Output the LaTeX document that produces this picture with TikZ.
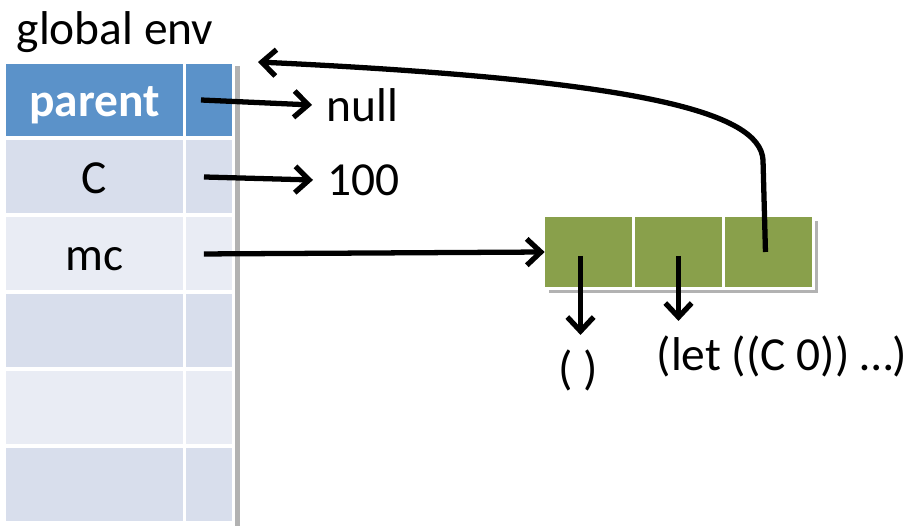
\documentclass[tikz,border=0pt]{standalone}
\usepackage{fontspec}
\setmainfont{Carlito}
\usepackage{tikz}
\usetikzlibrary{arrows.meta}
\definecolor{hdrblue}{RGB}{91,146,201}
\definecolor{rowdark}{RGB}{216,222,236}
\definecolor{rowlight}{RGB}{233,236,244}
\definecolor{consgreen}{RGB}{137,160,75}
\tikzstyle{namecell} = [rectangle, minimum width=3.54cm, minimum height=1.46cm, inner sep=0pt, text height=19pt, text depth=0pt, text centered]
\tikzstyle{ptrcell} = [rectangle, minimum width=0.92cm, minimum height=1.46cm, inner sep=0pt]
\tikzstyle{conscell} = [rectangle, fill=consgreen, minimum width=1.74cm, minimum height=1.4cm, inner sep=0pt]
\tikzstyle{val} = [inner sep=8pt]
\tikzstyle{arrow} = [line width=3pt,-{Straight Barb[length=8pt,width=15pt]}]

\begin{document}
\begin{tikzpicture}[node distance=1.54cm, x=0.02cm, y=-0.02cm, font=\fontsize{27pt}{31pt}\selectfont]
\useasboundingbox (0,0) rectangle (915,526);
% table shadow and backing
\fill[black!30] (234,66) rectangle (240,526);
\fill[white] (2,60) rectangle (235,526);
% cons shadow and backing
\fill[black!30] (549,221) rectangle (818,293);
\fill[white] (543,215) rectangle (815,290);

\node (genv) at (115,32) {global env};
\node (parent) [namecell, fill=hdrblue, text=white, font=\fontsize{27pt}{31pt}\selectfont\bfseries] at (94.5,100) {parent};
\node (C) [namecell, fill=rowdark, below of=parent] {C};
\node (mc) [namecell, fill=rowlight, below of=C] {mc};
\node (rowfour) [namecell, fill=rowdark, below of=mc] {};
\node (rowfive) [namecell, fill=rowlight, below of=rowfour] {};
\node (rowsix) [namecell, fill=rowdark, below of=rowfive] {};
\node (parentptr) [ptrcell, fill=hdrblue, right of=parent, node distance=2.29cm] {};
\node (Cptr) [ptrcell, fill=rowdark, right of=C, node distance=2.29cm] {};
\node (mcptr) [ptrcell, fill=rowlight, right of=mc, node distance=2.29cm] {};
\node (fourptr) [ptrcell, fill=rowdark, right of=rowfour, node distance=2.29cm] {};
\node (fiveptr) [ptrcell, fill=rowlight, right of=rowfive, node distance=2.29cm] {};
\node (sixptr) [ptrcell, fill=rowdark, right of=rowsix, node distance=2.29cm] {};

\node (null) [val, anchor=west] at (312,105) {null};
\node (hundred) [val, anchor=west] at (313,180) {100};

\node (car) [conscell] at (588.5,252) {};
\node (cdr) [conscell, right of=car, node distance=1.8cm] {};
\node (env) [conscell, right of=cdr, node distance=1.8cm] {};
\node (params) [val] at (578,370) {( )};
\node (body) [val] at (782,356) {(let ((C 0)) …)};
\coordinate (envtop) at (258,62);

\draw [arrow] ([xshift=-0.16cm]parentptr.center) -- (null.west);
\draw [arrow] ([xshift=-0.1cm]Cptr.center) -- (hundred.west);
\draw [arrow] ([xshift=-0.1cm]mcptr.center) -- (car.west);
\draw [arrow] ([xshift=-0.16cm,yshift=-0.08cm]car.center) -- ([xshift=-0.16cm]car.center |- params.north);
\draw [arrow] ([yshift=-0.08cm]cdr.center) -- (cdr.center |- body.north);
\draw [arrow] ([xshift=-0.06cm]env.center) -- (763,160) .. controls (760,112) and (640,80) .. (envtop);
\end{tikzpicture}
\end{document}
